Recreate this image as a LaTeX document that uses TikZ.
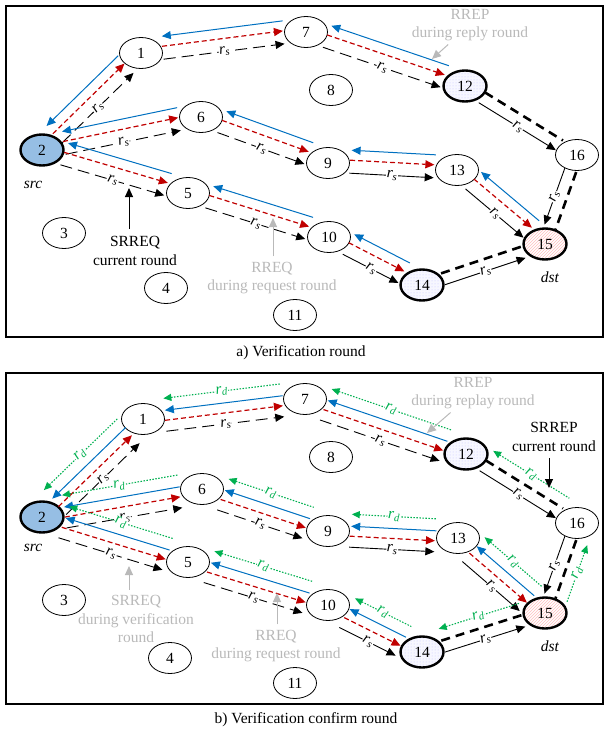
\documentclass[tikz,border=0pt]{standalone}
\usepackage{fontspec}
\setmainfont{Liberation Serif}
\usetikzlibrary{
    arrows.meta,
    calc,
    patterns,
    shapes.geometric
}
\definecolor{reqred}{RGB}{192,0,0}
\definecolor{repblue}{RGB}{0,112,192}
\definecolor{confgreen}{RGB}{0,176,80}
\definecolor{notegray}{RGB}{185,185,185}
\definecolor{srcblue}{RGB}{150,190,228}
\newcommand{\figfont}{\fontsize{15.5}{18.5}\selectfont}
\newcommand{\rsl}{\textit{r}\textsubscript{\textit{s}}}
\newcommand{\rdl}{\textit{r}\textsubscript{\textit{d}}}
\tikzset{
    % Nodes
    nd/.style={ellipse,draw,line width=0.8pt,minimum width=43pt,minimum height=31pt,inner sep=0pt,fill=white},
    hot/.style={nd,line width=2.4pt},
    src node/.style={hot,fill=srcblue},
    dot node/.style={hot,preaction={fill=blue!3},pattern=dots,pattern color=blue!22},
    hatch node/.style={hot,preaction={fill=white},pattern=north east lines,pattern color=red!25},
    tag/.style={font=\figfont\itshape},
    note/.style={align=center,text=notegray},
    remark/.style={align=center},
    frame/.style={line width=1.2pt},
    %
    % Arrows
    arrow tip/.tip={Triangle[length=9pt,width=8pt]},
    arr/.style={-{arrow tip},line width=1pt},
    note arrow/.style={arr,notegray},
    rs/.style={-{arrow tip},line width=0.9pt,dash pattern=on 12pt off 6pt,shorten >=1pt},
    rs solid/.style={-{arrow tip},line width=0.9pt,shorten >=1pt},
    req/.style={-{arrow tip},reqred,line width=1.2pt,dash pattern=on 5pt off 3pt,shorten >=1pt},
    reply/.style={{arrow tip}-,repblue,line width=1pt,shorten <=1pt},
    confirm/.style={{Triangle[length=8pt,width=7pt]}-,confgreen,line width=1.1pt,dash pattern=on 1.5pt off 1.5pt,shorten <=1pt},
    route/.style={line width=2.6pt,dash pattern=on 9pt off 6pt},
    lbl/.style={sloped,fill=white,inner sep=0.5pt,font=\figfont\itshape},
}
\tikzstyle{every node}=[font=\figfont]

% one message between two nodes, moved sideways by #2
\newcommand{\sendmsg}[5]{%
    \draw[#1,transform canvas={shift={($(#3)!#2!90:(#4)-(#3)$)}}] (#3) -- #5 (#4);}
\newcommand{\hop}[3][rs]{%
    \sendmsg{reply}{\offblue}{#2}{#3}{}%
    \sendmsg{req}{\offred}{#2}{#3}{}%
    \sendmsg{#1}{\offblack}{#2}{#3}{node[lbl]{\rsl}}}
\newcommand{\lasthop}[2]{%
    \sendmsg{route}{\offroute}{#1}{#2}{}%
    \sendmsg{rs solid}{\offthin}{#1}{#2}{node[lbl]{\rsl}}}
\newcommand{\confirmhop}[3][\offgreen]{%
    \sendmsg{confirm}{#1}{#2}{#3}{node[lbl]{\rdl}}}

\begin{document}
\begin{tikzpicture}[x=1pt,y=-1pt]
    \useasboundingbox (0,0) rectangle (604,731);
    % a) Verification round
    \draw[frame] (6,6) rectangle (603,337);
    \node[src node] (a2) at (42,150) {2};
    \node[nd] (a1) at (141,53) {1};
    \node[nd] (a7) at (306,32) {7};
    \node[dot node] (a12) at (465,86) {12};
    \node[nd] (a16) at (577,155) {16};
    \node[hatch node] (a15) at (545,244) {15};
    \node[nd] (a6) at (201,117) {6};
    \node[nd] (a9) at (328,163) {9};
    \node[nd] (a13) at (457,170) {13};
    \node[nd] (a5) at (188,193) {5};
    \node[nd] (a10) at (329,237) {10};
    \node[dot node] (a14) at (422,285) {14};
    \node[nd] (a8) at (331,90) {8};
    \node[nd] (a3) at (64,233) {3};
    \node[nd] (a4) at (166,288) {4};
    \node[nd] (a11) at (295,315) {11};
    \node[tag] (asrc) at (33,185) {src};
    \node[tag] (adst) at (550,277) {dst};
    \def\offblue{14pt}\def\offred{4pt}\def\offblack{-9pt}
    \def\offroute{5pt}\def\offthin{-7pt}
    \hop{a2}{a1}
    \hop{a1}{a7}
    \hop{a7}{a12}
    \hop{a2}{a6}
    \hop{a6}{a9}
    \hop[rs solid]{a9}{a13}
    \hop[rs solid]{a13}{a15}
    \hop{a2}{a5}
    \hop{a5}{a10}
    \hop[rs solid]{a10}{a14}
    \lasthop{a12}{a16}
    \lasthop{a16}{a15}
    \lasthop{a14}{a15}
    \node[note] (arrep) at (470,25) {RREP\\during reply round};
    \coordinate (arreptip) at (432,59);
    \draw[note arrow] (arrep) -- (arreptip);
    \node[remark] (asrreq) at (135,251) {SRREQ\\current round};
    \coordinate (asrreqtip) at (129,188);
    \draw[arr,shorten <=4pt] (asrreq.north -| asrreqtip) -- (asrreqtip);
    \node[note] (arreq) at (272,278) {RREQ\\during request round};
    \coordinate (arreqtip) at (273,218);
    \draw[note arrow,shorten <=2pt] (arreq.north -| arreqtip) -- (arreqtip);
    \node (acap) at (301,353) {a) Verification round};
    %
    % b) Verification confirm round
    \draw[frame] (6,373) rectangle (603,704);
    \node[src node] (b2) at (42,517) {2};
    \node[nd] (b1) at (143,419) {1};
    \node[nd] (b7) at (305,399) {7};
    \node[dot node] (b12) at (466,454) {12};
    \node[nd] (b16) at (577,523) {16};
    \node[hatch node] (b15) at (545,613) {15};
    \node[nd] (b6) at (202,489) {6};
    \node[nd] (b9) at (328,531) {9};
    \node[nd] (b13) at (458,538) {13};
    \node[nd] (b5) at (188,562) {5};
    \node[nd] (b10) at (328,605) {10};
    \node[dot node] (b14) at (422,652) {14};
    \node[nd] (b8) at (331,457) {8};
    \node[nd] (b3) at (64,600) {3};
    \node[nd] (b4) at (170,658) {4};
    \node[nd] (b11) at (295,683) {11};
    \node[tag] (bsrc) at (33,548) {src};
    \node[tag] (bdst) at (550,646) {dst};
    \def\offblue{6pt}\def\offred{-4pt}\def\offblack{-15pt}\def\offgreen{18pt}
    \hop{b2}{b1}
    \hop{b1}{b7}
    \hop{b7}{b12}
    \hop{b2}{b6}
    \hop{b6}{b9}
    \hop[rs solid]{b9}{b13}
    \hop[rs solid]{b13}{b15}
    \hop{b2}{b5}
    \hop{b5}{b10}
    \hop[rs solid]{b10}{b14}
    \lasthop{b12}{b16}
    \lasthop{b16}{b15}
    \lasthop{b14}{b15}
    \confirmhop{b2}{b1}
    \confirmhop{b1}{b7}
    \confirmhop{b7}{b12}
    \confirmhop{b2}{b6}
    \confirmhop{b6}{b9}
    \confirmhop{b9}{b13}
    \confirmhop{b13}{b15}
    \confirmhop{b2}{b5}
    \confirmhop{b5}{b10}
    \confirmhop{b10}{b14}
    \confirmhop[17pt]{b12}{b16}
    \confirmhop[17pt]{b16}{b15}
    \confirmhop[17pt]{b14}{b15}
    \node[note] (brrep) at (473,393) {RREP\\during replay round};
    \coordinate (brreptip) at (427,433);
    \draw[note arrow] (brrep) -- (brreptip);
    \node[remark] (bsrrep) at (554,437) {SRREP\\current round};
    \coordinate (bsrreptip) at (549,488);
    \draw[arr,shorten <=3pt] (bsrrep.south -| bsrreptip) -- (bsrreptip);
    \node[note] (bsrreq) at (136,619) {SRREQ\\during verification\\round};
    \coordinate (bsrreqtip) at (129,566);
    \draw[note arrow,shorten <=2pt] (bsrreq.north -| bsrreqtip) -- (bsrreqtip);
    \node[note] (brreq) at (276,646) {RREQ\\during request round};
    \coordinate (brreqtip) at (277,593);
    \draw[note arrow,shorten <=2pt] (brreq.north -| brreqtip) -- (brreqtip);
    \node (bcap) at (306,720) {b) Verification confirm round};
\end{tikzpicture}
\end{document}
